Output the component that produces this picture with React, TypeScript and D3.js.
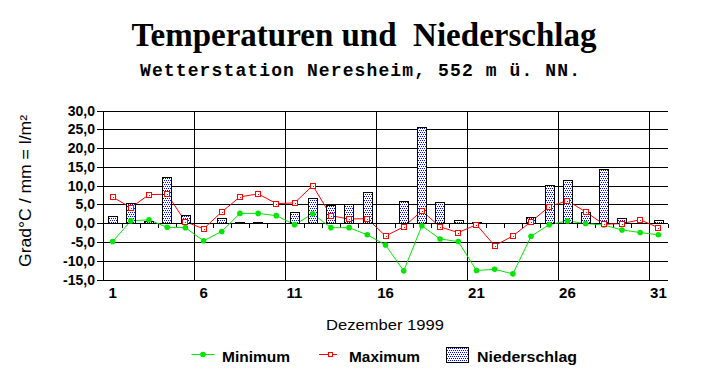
import React from 'react';
import * as d3 from 'd3';

const days = [1, 2, 3, 4, 5, 6, 7, 8, 9, 10, 11, 12, 13, 14, 15, 16, 17, 18, 19, 20, 21, 22, 23, 24, 25, 26, 27, 28, 29, 30, 31];
const minimum = [-4.9, 0.6, 0.9, -1.1, -1.2, -4.7, -2.2, 2.6, 2.6, 2.0, -0.4, 2.5, -1.2, -1.2, -3.1, -5.8, -12.7, -0.7, -4.2, -4.9, -12.6, -12.3, -13.5, -3.5, -0.4, 0.6, -0.1, -0.5, -1.8, -2.5, -3.1];
const maximum = [7.0, 4.1, 7.6, 7.7, 0.4, -1.5, 3.0, 7.0, 7.8, 5.2, 5.4, 10.0, 2.0, 1.1, 1.2, -3.4, -1.0, 3.3, -1.0, -2.5, -0.4, -6.0, -3.4, 0.4, 4.4, 6.0, 3.0, -0.3, -0.1, 0.9, -1.2];
const niederschlag = [2.0, 5.4, 0.7, 12.2, 2.3, 0, 1.4, 0.3, 0.3, 0, 3.0, 6.8, 4.8, 5.2, 8.4, 0, 6.0, 25.7, 5.7, 0.9, 0.3, 0, 0, 1.7, 10.2, 11.6, 3.0, 14.3, 1.4, 0, 0.9];
const yTicks = [-15, -10, -5, 0, 5, 10, 15, 20, 25, 30];
const xLabelDays = [1, 6, 11, 16, 21, 26, 31];
const gridAfter = [5, 10, 15, 20, 25, 30];

const title = 'Temperaturen und  Niederschlag';
const subtitle = 'Wetterstation Neresheim, 552 m ü. NN.';
const yTitle = 'Grad°C / mm = l/m²';
const xTitle = 'Dezember 1999';
const legendNames = ['Minimum', 'Maximum', 'Niederschlag'];

const SANS = '"Liberation Sans", Arial, sans-serif';

export default function App() {
  const W = 725, H = 384;
  const left = 103.5, right = 667.5, top = 110.5, bottom = 279.5;
  const x = d3.scaleBand<number>().domain(days).range([left, right]).paddingInner(0).paddingOuter(0);
  const y = d3.scaleLinear().domain([-15, 30]).range([bottom, top]);
  const bw = x.bandwidth();
  const cx = (d: number) => (x(d) as number) + bw / 2;
  const barW = 9.4;
  const y0 = Math.round(y(0)) + 0.5;

  const minLine = d3.line<number>().x((_, i) => cx(days[i])).y((v) => y(v));
  const maxLine = d3.line<number>().x((_, i) => cx(days[i])).y((v) => y(v));

  const fmt = (v: number) => v.toFixed(1).replace('.', ',');

  return (
    <svg width={W} height={H} style={{ position: 'absolute', left: 0, top: 0, background: '#fff' }}>
      <defs>
        <pattern id="dots" width="2" height="4" patternUnits="userSpaceOnUse">
          <rect width="2" height="4" fill="#fff" />
          <rect x="0" y="0" width="1" height="1" fill="#0000ff" />
          <rect x="1" y="2" width="1" height="1" fill="#0000ff" />
        </pattern>
      </defs>
      <rect width={W} height={H} fill="#fff" />

      <text x={364} y={46} textAnchor="middle" fontFamily='"Liberation Serif", "Times New Roman", serif' fontWeight="bold" fontSize={34}
        textLength={465} lengthAdjust="spacingAndGlyphs" style={{ whiteSpace: 'pre' }}>{title}</text>
      <text x={360} y={76} textAnchor="middle" fontFamily='"Liberation Mono", "Courier New", monospace' fontWeight="bold" fontSize={18}
        textLength={440} lengthAdjust="spacing">{subtitle}</text>

      {/* grid */}
      <g shapeRendering="crispEdges" stroke="#000" strokeWidth={1}>
        {yTicks.map((t) => (
          <line key={'h' + t} x1={left} x2={right} y1={Math.round(y(t)) + 0.5} y2={Math.round(y(t)) + 0.5} />
        ))}
        {gridAfter.map((d) => {
          const gx = Math.round((x(d) as number) + bw) + 0.5;
          return <line key={'v' + d} x1={gx} x2={gx} y1={top} y2={bottom} />;
        })}
        <line x1={left} x2={left} y1={top} y2={bottom} />
        {yTicks.map((t) => (
          <line key={'yt' + t} x1={left - 7} x2={left} y1={Math.round(y(t)) + 0.5} y2={Math.round(y(t)) + 0.5} />
        ))}
        {days.map((d) => {
          const tx = Math.round((x(d) as number) + bw) + 0.5;
          return <line key={'xt' + d} x1={tx} x2={tx} y1={y0} y2={y0 + 4} />;
        })}
      </g>

      {/* y tick labels */}
      {yTicks.map((t) => (
        <text key={'yl' + t} x={95} y={y(t)} dy="0.36em" textAnchor="end" fontFamily={SANS} fontWeight="bold" fontSize={14}>{fmt(t)}</text>
      ))}
      {/* x tick labels */}
      {xLabelDays.map((d) => (
        <text key={'xl' + d} x={cx(d)} y={298} textAnchor="middle" fontFamily={SANS} fontWeight="bold" fontSize={15}>{String(d)}</text>
      ))}

      <text transform="translate(31,191) rotate(-90)" textAnchor="middle" fontFamily={SANS} fontSize={16}
        textLength={152} lengthAdjust="spacingAndGlyphs">{yTitle}</text>
      <text x={385} y={330} textAnchor="middle" fontFamily={SANS} fontSize={15}
        textLength={118} lengthAdjust="spacingAndGlyphs">{xTitle}</text>

      {/* lines */}
      <path d={maxLine(maximum) || ''} fill="none" stroke="#ff0000" strokeWidth={1} />
      <path d={minLine(minimum) || ''} fill="none" stroke="#00e600" strokeWidth={1} />

      {/* bars */}
      <g shapeRendering="crispEdges">
        {days.map((d, i) => {
          const v = niederschlag[i];
          if (v <= 0) return null;
          const yt = Math.round(y(v)) + 0.5;
          const bx = Math.round(cx(d) - barW / 2) + 0.5;
          return <rect key={'b' + d} x={bx} y={yt} width={Math.round(barW)} height={Math.max(1, y0 - yt)} fill="url(#dots)" stroke="#000" strokeWidth={1} />;
        })}
      </g>

      {/* markers */}
      {days.map((d, i) => (
        <circle key={'mn' + d} cx={cx(d)} cy={y(minimum[i])} r={2.8} fill="#00e600" />
      ))}
      <g shapeRendering="crispEdges">
        {days.map((d, i) => {
          const px = Math.round(cx(d));
          const py = Math.round(y(maximum[i]));
          return (
            <g key={'mx' + d}>
              <rect x={px - 2.5} y={py - 2.5} width={5} height={5} fill="#fff" stroke="#ff0000" strokeWidth={1} />
              <rect x={px} y={py} width={1} height={1} fill="#ff0000" />
            </g>
          );
        })}
      </g>

      {/* legend */}
      <line x1={191.5} x2={214.5} y1={354.5} y2={354.5} stroke="#00e600" strokeWidth={1} />
      <circle cx={203} cy={354.5} r={2.8} fill="#00e600" />
      <text x={222} y={362} fontFamily={SANS} fontWeight="bold" fontSize={15} textLength={68} lengthAdjust="spacingAndGlyphs">{legendNames[0]}</text>

      <line x1={319} x2={337} y1={354.5} y2={354.5} stroke="#ff0000" strokeWidth={1} shapeRendering="crispEdges" />
      <rect x={328.5} y={352.5} width={4} height={4} fill="#fff" stroke="#ff0000" strokeWidth={1} shapeRendering="crispEdges" />
      <text x={349} y={362} fontFamily={SANS} fontWeight="bold" fontSize={15} textLength={71} lengthAdjust="spacingAndGlyphs">{legendNames[1]}</text>

      <rect x={446.5} y={347.5} width={22} height={15} fill="url(#dots)" stroke="#000" strokeWidth={1} shapeRendering="crispEdges" />
      <text x={477} y={362} fontFamily={SANS} fontWeight="bold" fontSize={15} textLength={100} lengthAdjust="spacingAndGlyphs">{legendNames[2]}</text>
    </svg>
  );
}
